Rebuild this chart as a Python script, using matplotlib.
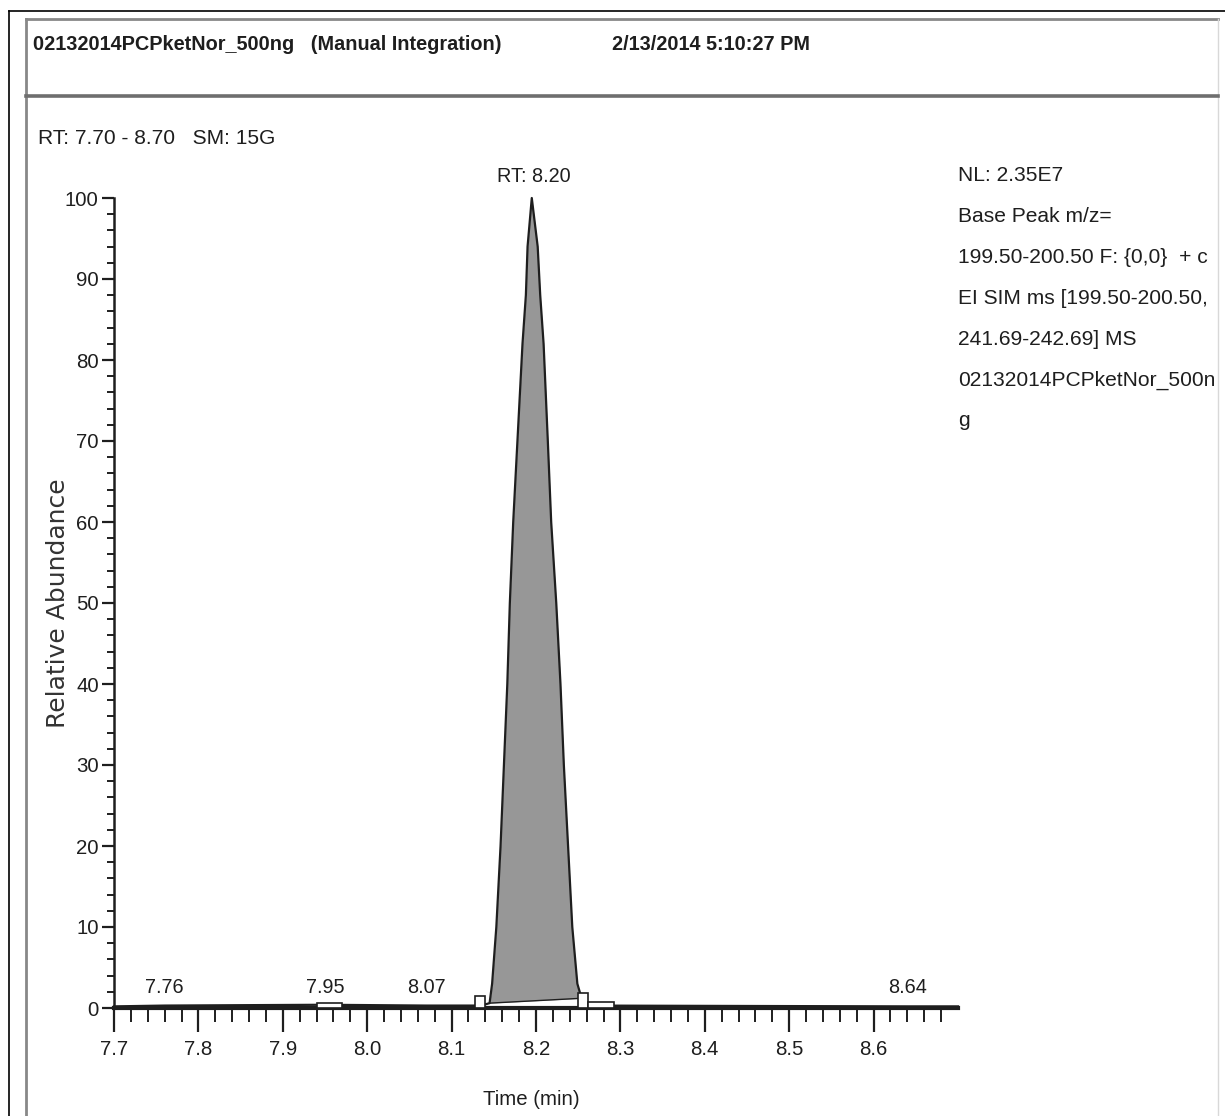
import matplotlib
matplotlib.use('Agg')
import matplotlib.pyplot as plt
from matplotlib import font_manager
from matplotlib.lines import Line2D
from matplotlib.patches import Rectangle
import numpy as np

W, H = 1225, 1116

# ---------------------------
# Data
# ---------------------------
# chromatogram trace: flat baseline, one peak at RT 8.20
trace_x = [7.70, 7.76, 7.95, 8.07, 8.135, 8.145, 8.148, 8.153, 8.158, 8.162, 8.166,
           8.169, 8.173, 8.178, 8.184, 8.188, 8.190, 8.195, 8.202, 8.205, 8.209,
           8.214, 8.218, 8.224, 8.229, 8.233, 8.238, 8.243, 8.249, 8.254, 8.26,
           8.64, 8.70]
trace_y = [0.2, 0.3, 0.4, 0.3, 0.3, 0.6, 3.0, 10.0, 20.0, 30.0, 40.0,
           50.0, 60.0, 70.0, 82.0, 88.0, 94.0, 100.0, 94.0, 88.0, 82.0,
           70.0, 60.0, 50.0, 40.0, 30.0, 20.0, 10.0, 3.0, 1.2, 0.3,
           0.2, 0.2]

# manual integration baseline under the peak
integ_x = [8.145, 8.254]
integ_y = [0.6, 1.2]

# little integration / peak-detection boxes on the baseline (x0, x1, height)
box_x0 = [7.94, 8.128, 8.250, 8.262]
box_x1 = [7.97, 8.140, 8.262, 8.292]
box_h = [0.6, 1.5, 1.9, 0.7]

# labelled peak apexes
apex_rt = [7.76, 7.95, 8.07, 8.64]
apex_lbl = ['7.76', '7.95', '8.07', '8.64']

x_major = [7.7, 7.8, 7.9, 8.0, 8.1, 8.2, 8.3, 8.4, 8.5, 8.6]
x_minor = [round(7.7 + 0.02 * i, 2) for i in range(50)]
y_major = list(range(0, 101, 10))
y_minor = list(range(0, 101, 2))

header_left = '02132014PCPketNor_500ng   (Manual Integration)'
header_date = '2/13/2014 5:10:27 PM'
range_line = 'RT: 7.70 - 8.70   SM: 15G'
peak_title = 'RT: 8.20'
info_lines = ['NL: 2.35E7',
              'Base Peak m/z=',
              '199.50-200.50 F: {0,0}  + c',
              'EI SIM ms [199.50-200.50,',
              '241.69-242.69] MS',
              '02132014PCPketNor_500n',
              'g']

# ---------------------------
# Fonts: condensed look if a narrow face is installed
# ---------------------------
try:
    font_manager.findfont('Liberation Sans Narrow', fallback_to_default=False)
    narrow = 'Liberation Sans Narrow'
    k = 1.0
except ValueError:
    narrow = 'Liberation Sans'
    k = 0.84
ink = '#1e1e1e'


def fx(px):
    return px / W


def fy(py):
    return 1 - py / H


fig = plt.figure(figsize=(W / 100, H / 100), dpi=100)
fig.patch.set_facecolor('white')

# page frame like the printout
fig.add_artist(Line2D([fx(9), fx(1225)], [fy(11), fy(11)], color='black', lw=1.2))
fig.add_artist(Line2D([fx(9), fx(9)], [fy(11), fy(1116)], color='black', lw=1.2))
fig.add_artist(Line2D([fx(26), fx(1218)], [fy(19), fy(19)], color='#888888', lw=2))
fig.add_artist(Line2D([fx(26), fx(26)], [fy(19), fy(1116)], color='#888888', lw=2))
fig.add_artist(Line2D([fx(1218), fx(1218)], [fy(19), fy(1116)], color='#d8d8d8', lw=1))
fig.add_artist(Line2D([fx(26), fx(1218)], [fy(96), fy(96)], color='#6e6e6e', lw=2.6))

fig.text(fx(33), fy(45), header_left, family=narrow, weight='bold', fontsize=17 * k,
         color=ink, va='center', ha='left')
fig.text(fx(612), fy(45), header_date, family=narrow, weight='bold', fontsize=17 * k,
         color=ink, va='center', ha='left')
fig.text(fx(38), fy(138), range_line, family=narrow, fontsize=18 * k,
         color=ink, va='center', ha='left')

for i, line in enumerate(info_lines):
    fig.text(fx(958), fy(176 + 40.8 * i), line, family=narrow, fontsize=18 * k,
             color=ink, va='center', ha='left')

# ---------------------------
# Chromatogram
# ---------------------------
ax = fig.add_axes([fx(114), fy(1008), fx(958) - fx(114), fy(198) - fy(1008)])
ax.set_xlim(7.7, 8.7)
ax.set_ylim(0, 100)

px = np.array(trace_x)
py = np.array(trace_y)
pk = (px >= integ_x[0]) & (px <= integ_x[1])
ax.fill_between(px[pk], np.interp(px[pk], integ_x, integ_y), py[pk],
                color='#979797', lw=0, zorder=2)
ax.plot(px, py, color=ink, lw=1.6, clip_on=False, zorder=3)
ax.plot(integ_x, integ_y, color=ink, lw=1.0, zorder=3)

for x0, x1, h in zip(box_x0, box_x1, box_h):
    ax.add_patch(Rectangle((x0, 0), x1 - x0, h, facecolor='white', edgecolor=ink,
                           lw=1.2, zorder=4, clip_on=False))

for rt, lbl in zip(apex_rt, apex_lbl):
    ax.text(rt, 1.3, lbl, family=narrow, fontsize=17 * k, color=ink,
            ha='center', va='bottom')
ax.text(8.197, 101.5, peak_title, family=narrow, fontsize=17 * k, color=ink,
        ha='center', va='bottom', clip_on=False)

for side in ['top', 'right']:
    ax.spines[side].set_visible(False)
ax.spines['left'].set_linewidth(1.8)
ax.spines['bottom'].set_linewidth(3.0)
ax.spines['left'].set_color(ink)
ax.spines['bottom'].set_color(ink)

ax.set_xticks(x_major)
ax.set_xticks(x_minor, minor=True)
ax.set_xticklabels([f'{v:.1f}' for v in x_major])
ax.set_yticks(y_major)
ax.set_yticks(y_minor, minor=True)
ax.set_yticklabels([str(v) for v in y_major])

ax.tick_params(axis='x', which='major', direction='out', length=17, width=1.6,
               color=ink, pad=6)
ax.tick_params(axis='x', which='minor', direction='out', length=10, width=1.4, color=ink)
ax.tick_params(axis='y', which='major', direction='out', length=9, width=1.6,
               color=ink, pad=2)
ax.tick_params(axis='y', which='minor', direction='out', length=5, width=1.4, color=ink)
for lab in ax.get_xticklabels() + ax.get_yticklabels():
    lab.set_family(narrow)
    lab.set_fontsize(17.5 * k)
    lab.set_color(ink)

ax.set_xlabel('Time (min)', family=narrow, fontsize=17.5 * k, color=ink)
ax.xaxis.set_label_coords(0.495, -0.101)
ax.set_ylabel('Relative Abundance', family='DejaVu Sans', fontsize=18, color='#333333')
ax.yaxis.set_label_coords(-0.052, 0.5)

plt.savefig('out.png', dpi=100, facecolor='white')
